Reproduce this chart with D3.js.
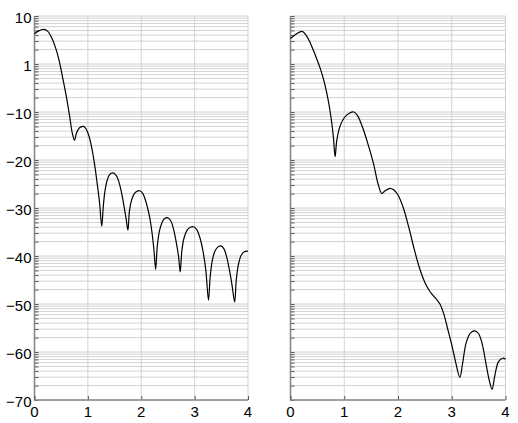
<!DOCTYPE html>
<html><head><meta charset="utf-8">
<script src="https://cdn.jsdelivr.net/npm/d3@7"></script>
<style>body{margin:0;background:#fff}svg{display:block}</style>
</head><body><svg id="c" width="518" height="423"></svg>
<script>
const xTicks = [0, 1, 2, 3, 4];
const xTickLabels = ["0", "1", "2", "3", "4"];
const yTicks = [10, 0, -10, -20, -30, -40, -50, -60, -70];
const yTickLabels = ["10", "1", "\u221210", "\u221220", "\u221230", "\u221240", "\u221250", "\u221260", "\u221270"];

const leftX = [0.00,0.08,0.17,0.25,0.32,0.40,0.47,0.53,0.60,0.66,0.71,0.75,
  0.78,0.82,0.87,0.92,0.97,1.02,1.07,1.12,1.17,1.22,1.26,
  1.29,1.32,1.36,1.41,1.47,1.53,1.58,1.63,1.68,1.72,1.75,
  1.78,1.82,1.87,1.92,1.97,2.03,2.09,2.15,2.20,2.24,2.27,
  2.30,2.34,2.39,2.44,2.49,2.55,2.60,2.65,2.70,2.73,
  2.76,2.80,2.86,2.92,2.98,3.04,3.10,3.16,3.21,3.26,
  3.29,3.33,3.38,3.44,3.49,3.55,3.60,3.65,3.70,3.75,
  3.78,3.82,3.87,3.93,4.00];
const leftY = [6.3,6.9,7.2,6.8,5.5,3.2,0.3,-3.0,-7.0,-11.0,-14.5,-15.9,
  -14.6,-13.6,-13.1,-13.0,-13.6,-15.0,-17.3,-20.5,-24.5,-29.0,-33.8,
  -29.5,-26.5,-24.3,-23.0,-22.7,-23.2,-24.5,-26.8,-29.8,-32.5,-34.6,
  -30.5,-28.3,-27.0,-26.5,-26.4,-27.0,-28.8,-31.5,-35.0,-39.0,-42.8,
  -38.0,-34.8,-33.0,-32.2,-32.0,-32.6,-34.2,-36.8,-40.2,-43.3,
  -39.0,-36.3,-34.6,-34.0,-33.9,-34.5,-36.2,-39.2,-43.0,-49.2,
  -44.5,-41.0,-39.0,-38.1,-37.9,-38.5,-40.2,-42.8,-46.0,-49.6,
  -45.0,-41.8,-39.9,-39.1,-39.0];

const rightX = [0.00,0.10,0.22,0.30,0.36,0.42,0.48,0.55,0.61,0.67,0.72,0.77,0.80,0.83,0.86,0.92,1.00,1.10,1.18,1.25,1.35,1.45,1.55,1.63,1.70,1.75,1.85,1.92,2.00,2.10,2.20,2.30,2.40,2.50,2.60,2.70,2.78,2.85,2.92,3.00,3.07,3.15,3.20,3.27,3.35,3.43,3.50,3.57,3.63,3.70,3.75,3.80,3.87,3.95,4.00];
const rightY = [5.3,6.2,6.8,5.8,4.6,3.0,1.3,-0.8,-3.0,-5.8,-8.7,-12.5,-15.5,-19.3,-16,-13,-11.2,-10.2,-10.0,-10.8,-13.5,-17,-21,-25,-27.0,-26.5,-25.9,-26.2,-27.3,-30,-34,-38.5,-42.5,-45.5,-47.5,-48.8,-50,-52,-55,-58.5,-62,-65.3,-62.5,-58,-56,-55.6,-56.2,-58.5,-62,-66,-67.8,-65,-62,-61.3,-61.5];

(function () {
const svg = d3.select("#c");
const yTop = 16, yBot = 400;
const y = d3.scaleLinear().domain([-70, 10]).range([yBot, yTop]);
const font = "'Liberation Sans', Arial, sans-serif";

const minor = [];
for (let b = -70; b < 10; b += 10) {
  for (let k = 2; k <= 9; k++) minor.push(b + 10 * Math.log10(k));
}

function panel(x0, x1, xs, ys, showY) {
  const x = d3.scaleLinear().domain([0, 4]).range([x0, x1]);
  const g = svg.append("g");
  g.selectAll(".mg").data(minor).join("line")
    .attr("x1", x0).attr("x2", x1).attr("y1", d => y(d)).attr("y2", d => y(d))
    .attr("stroke", "#d2d2d2").attr("stroke-width", 1);
  g.selectAll(".Mg").data(yTicks).join("line")
    .attr("x1", x0).attr("x2", x1).attr("y1", d => y(d)).attr("y2", d => y(d))
    .attr("stroke", "#d2d2d2").attr("stroke-width", 1);
  g.selectAll(".vg").data(xTicks.slice(1)).join("line")
    .attr("x1", d => x(d)).attr("x2", d => x(d)).attr("y1", yTop).attr("y2", yBot)
    .attr("stroke", "#d2d2d2").attr("stroke-width", 1);
  const yAxis = d3.axisRight(y).tickValues(yTicks.concat(minor)).tickSize(4).tickFormat("");
  const ga = g.append("g").attr("transform", `translate(${x0},0)`).call(yAxis);
  ga.select(".domain").remove();
  ga.selectAll("line").attr("stroke", "#555");
  g.append("line").attr("x1", x0).attr("x2", x0).attr("y1", yTop).attr("y2", yBot + 0.5)
    .attr("stroke", "#888").attr("stroke-width", 1.6);
  const xAxis = d3.axisTop(x).tickValues(xTicks).tickSize(4).tickFormat("");
  const gx = g.append("g").attr("transform", `translate(0,${yBot})`).call(xAxis);
  gx.select(".domain").remove();
  gx.selectAll("line").attr("stroke", "#555");
  g.append("line").attr("x1", x0).attr("x2", x1).attr("y1", yBot).attr("y2", yBot)
    .attr("stroke", "#888").attr("stroke-width", 1.6);
  g.selectAll(".xl").data(xTicks).join("text")
    .attr("x", d => x(d)).attr("y", yBot + 17).attr("text-anchor", "middle")
    .attr("font-family", font).attr("font-size", 15).attr("fill", "#000")
    .text((d, i) => xTickLabels[i]);
  if (showY) {
    g.selectAll(".yl").data(yTicks).join("text")
      .attr("x", x0 - 3).attr("y", d => y(d) + 7).attr("text-anchor", "end")
      .attr("font-family", font).attr("font-size", 15).attr("fill", "#000")
      .text((d, i) => yTickLabels[i]);
  }
  const pts = xs.map((v, i) => [v, ys[i]]);
  g.append("path").datum(pts)
    .attr("d", d3.line().x(d => x(d[0])).y(d => y(d[1])).curve(d3.curveCatmullRom.alpha(0.5)))
    .attr("fill", "none").attr("stroke", "#000").attr("stroke-width", 1.2);
}

panel(34.5, 248, leftX, leftY, true);
panel(290.5, 505.5, rightX, rightY, false);
})();
</script></body></html>
